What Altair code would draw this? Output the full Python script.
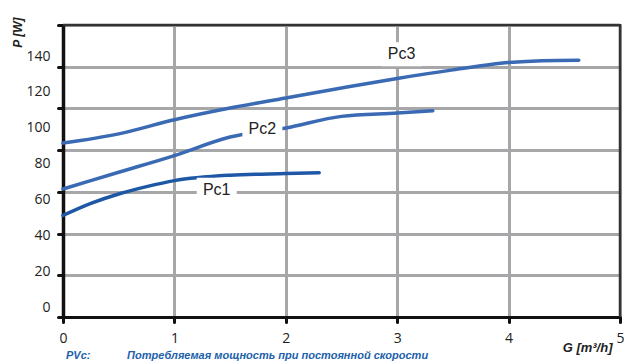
import altair as alt
import pandas as pd

# ---- data ----
pc3_g = [0.0, 0.5, 1.0, 1.5, 2.0, 2.5, 3.0, 3.5, 4.0, 4.3, 4.63]
pc3_p = [83.4, 87.8, 94.6, 100.2, 105.0, 109.8, 114.4, 118.5, 122.0, 122.9, 123.1]

pc2_g = [0.0, 0.5, 1.0, 1.5, 2.0, 2.5, 3.0, 3.32]
pc2_p = [61.4, 69.4, 77.4, 86.3, 90.6, 96.2, 97.8, 98.9]

pc1_g = [0.0, 0.25, 0.5, 0.75, 1.0, 1.5, 2.0, 2.3]
pc1_p = [48.7, 54.5, 59.0, 62.5, 65.4, 68.0, 68.8, 69.2]

series_names = ["Pc1", "Pc2", "Pc3"]
series_colors = ["#1e57a6", "#3a6ab4", "#3a6ab4"]

label_names = ["Pc3", "Pc2", "Pc1"]
label_g = [3.04, 1.79, 1.38]
label_p = [126.0, 90.1, 61.0]

x_ticks = [0, 1, 2, 3, 4, 5]
y_ticks = [0, 20, 40, 60, 80, 100, 120, 140]

footer_texts = ["PVc:", "Потребляемая мощность при постоянной скорости"]

# ---- tables ----
rows = []
for name, gs, ps in [("Pc3", pc3_g, pc3_p), ("Pc2", pc2_g, pc2_p), ("Pc1", pc1_g, pc1_p)]:
    for g, p in zip(gs, ps):
        rows.append({"series": name, "G": g, "P": p})
df = pd.DataFrame(rows)
labels_df = pd.DataFrame({"label": label_names, "G": label_g, "P": label_p})
border_top = pd.DataFrame({"P": [max(y_ticks)]})
border_right = pd.DataFrame({"G": [max(x_ticks)]})

x_scale = alt.Scale(domain=[0, 5], nice=False, zero=False)
y_scale = alt.Scale(domain=[0, 140.5], nice=False)

x_axis = alt.Axis(
    values=x_ticks, title="G [m³/h]", grid=True, gridColor="#a7a7a9", gridWidth=3,
    domainColor="#111111", domainWidth=3, tickColor="#111111", tickWidth=3, tickSize=5,
    tickCap="round", labelFont="Open Sans", labelFontSize=14, labelColor="#222222",
    labelPadding=9, labelFlush=False,
    titleFont="Liberation Sans", titleFontSize=13, titleFontWeight="bold", titleFontStyle="italic",
    titleColor="#222222", titleX=549, titleY=30, titleAlign="right", titleBaseline="middle",
)
y_axis = alt.Axis(
    values=y_ticks, title="P [W]", grid=True, gridColor="#a7a7a9", gridWidth=3,
    domainColor="#111111", domainWidth=3.5, tickColor="#111111", tickWidth=3, tickSize=5,
    tickCap="round", labelFont="Open Sans", labelFontSize=14, labelColor="#222222",
    labelPadding=8, labelBaseline="middle", labelFlush=False, labelOverlap=False,
    labelOffset={"expr": "-10 + 0.2937 * datum.value"},
    titleFont="Liberation Sans", titleFontSize=12, titleFontWeight="bold", titleFontStyle="italic",
    titleColor="#222222", titleAngle=270, titleX=-46, titleY=-7, titleAlign="right",
    titleBaseline="middle",
)

X = alt.X("G:Q", scale=x_scale, axis=x_axis)
Y = alt.Y("P:Q", scale=y_scale, axis=y_axis)

lines = alt.Chart(df).mark_line(interpolate="monotone", strokeWidth=3.5, strokeCap="round").encode(
    x=X, y=Y,
    color=alt.Color("series:N", scale=alt.Scale(domain=series_names, range=series_colors), legend=None),
    order="G:Q",
)

box_path = "M-1,-0.6L1,-0.6L1,0.6L-1,0.6Z"
boxes = alt.Chart(labels_df).mark_point(
    shape=box_path, size=1600, filled=True, color="white", opacity=1, strokeWidth=0
).encode(x=X, y=Y)

texts = alt.Chart(labels_df).mark_text(
    font="Liberation Sans", fontSize=16, color="#222222", align="center", baseline="middle"
).encode(x=X, y=Y, text="label:N")

top_rule = alt.Chart(border_top).mark_rule(color="#333333", strokeWidth=2.5).encode(y=Y)
right_rule = alt.Chart(border_right).mark_rule(color="#333333", strokeWidth=2.5).encode(x=X)

foot_style = dict(font="Liberation Sans", fontSize=11, fontWeight="bold", fontStyle="italic",
                  color="#2160ab", align="left", baseline="middle")
foot1 = alt.Chart(pd.DataFrame({"t": [footer_texts[0]]})).mark_text(**foot_style).encode(
    x=alt.value(3), y=alt.value(332), text="t:N")
foot2 = alt.Chart(pd.DataFrame({"t": [footer_texts[1]]})).mark_text(**foot_style).encode(
    x=alt.value(64), y=alt.value(332), text="t:N")

chart = alt.layer(lines, boxes, texts, top_rule, right_rule, foot1, foot2).properties(
    width=557, height=293,
    padding={"left": 55, "top": 16, "right": 4, "bottom": 46},
    autosize=alt.AutoSizeParams(type="none"),
).configure_view(stroke=None).configure(background="white")

chart.save("out.html", embed_options={"renderer": "svg", "actions": False})
